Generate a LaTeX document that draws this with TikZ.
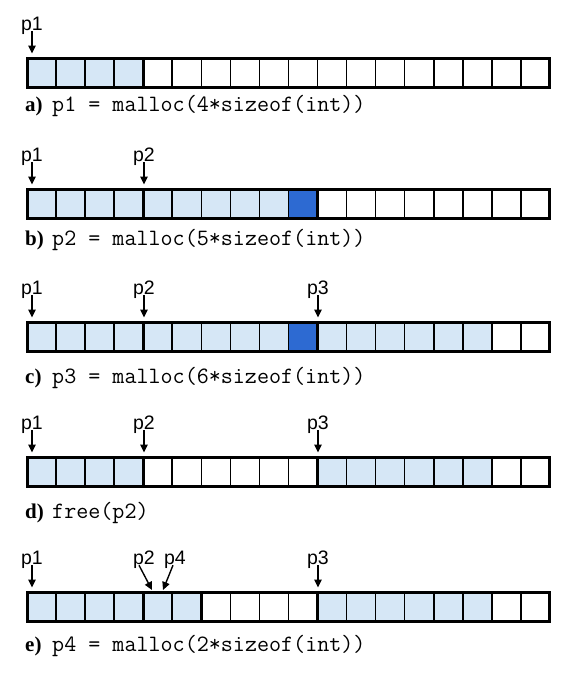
\documentclass[tikz,border=0pt]{standalone}
\usepackage{fontspec}
\setmainfont{Liberation Serif}
\newfontfamily\lblfont{Liberation Sans}
\usetikzlibrary{arrows.meta}
\definecolor{lb}{RGB}{214,231,246}
\definecolor{db}{RGB}{45,106,210}
\tikzset{
  cell/.style={draw=black, line width=1.6pt, minimum width=29.05pt, minimum height=29pt,
    inner sep=0pt, outer sep=0pt, anchor=north west},
  frame/.style={line width=3pt},
  sepline/.style={line width=3pt},
  ptrlabel/.style={font=\lblfont\fontsize{19.5}{19.5}\selectfont, inner sep=0pt, anchor=base},
  ptr/.style={-{Triangle[length=8pt,width=7.5pt]}, line width=1.4pt, shorten >=1.5pt},
  capt/.style={anchor=base west, inner sep=0pt},
}
\newcommand\memrow[3]{%
  \foreach \c [count=\i from 0] in {#3} {
    \node[cell, fill=\c] (#1\i) at ({27+29.05*\i}, #2) {};
  }
  \draw[frame] (#10.north west) rectangle (#117.south east);
}
\newcommand\capfont{\ttfamily\fontsize{23.4}{23.4}\selectfont}
\newcommand\tagfont{\bfseries\fontsize{21}{21}\selectfont}
\begin{document}
\begin{tikzpicture}[x=1pt, y=-1pt]
  \useasboundingbox (0,0) rectangle (580,675);

  % ---------- a ----------
  \memrow{a}{58}{lb,lb,lb,lb,white,white,white,white,white,white,white,white,white,white,white,white,white,white}
  \draw[sepline] (a4.north west) -- (a4.south west);
  \node[ptrlabel] (pa1) at (32,30) {p1};
  \draw[ptr] ([yshift=3pt]pa1.south) -- ([yshift=3pt]pa1.south |- a0.north);
  \node[capt] (capa) at (25,111) {\makebox[27pt][l]{\tagfont a)}\capfont p1 = malloc(4*sizeof(int))};

  % ---------- b ----------
  \memrow{b}{189}{lb,lb,lb,lb,lb,lb,lb,lb,lb,db,white,white,white,white,white,white,white,white}
  \draw[sepline] (b4.north west) -- (b4.south west);
  \draw[sepline] (b10.north west) -- (b10.south west);
  \node[ptrlabel] (pb1) at (32,161) {p1};
  \node[ptrlabel] (pb2) at (144,161) {p2};
  \draw[ptr] ([yshift=3pt]pb1.south) -- ([yshift=3pt]pb1.south |- b0.north);
  \draw[ptr] ([yshift=3pt]pb2.south) -- ([yshift=3pt]pb2.south |- b4.north);
  \node[capt] (capb) at (25,245) {\makebox[27pt][l]{\tagfont b)}\capfont p2 = malloc(5*sizeof(int))};

  % ---------- c ----------
  \memrow{c}{322}{lb,lb,lb,lb,lb,lb,lb,lb,lb,db,lb,lb,lb,lb,lb,lb,white,white}
  \draw[sepline] (c4.north west) -- (c4.south west);
  \draw[sepline] (c10.north west) -- (c10.south west);
  \node[ptrlabel] (pc1) at (32,294) {p1};
  \node[ptrlabel] (pc2) at (144,294) {p2};
  \node[ptrlabel] (pc3) at (318,294) {p3};
  \draw[ptr] ([yshift=3pt]pc1.south) -- ([yshift=3pt]pc1.south |- c0.north);
  \draw[ptr] ([yshift=3pt]pc2.south) -- ([yshift=3pt]pc2.south |- c4.north);
  \draw[ptr] ([yshift=3pt]pc3.south) -- ([yshift=3pt]pc3.south |- c10.north);
  \node[capt] (capc) at (25,383) {\makebox[27pt][l]{\tagfont c)}\capfont p3 = malloc(6*sizeof(int))};

  % ---------- d ----------
  \memrow{d}{457}{lb,lb,lb,lb,white,white,white,white,white,white,lb,lb,lb,lb,lb,lb,white,white}
  \draw[sepline] (d4.north west) -- (d4.south west);
  \draw[sepline] (d10.north west) -- (d10.south west);
  \node[ptrlabel] (pd1) at (32,429) {p1};
  \node[ptrlabel] (pd2) at (144,429) {p2};
  \node[ptrlabel] (pd3) at (318,429) {p3};
  \draw[ptr] ([yshift=3pt]pd1.south) -- ([yshift=3pt]pd1.south |- d0.north);
  \draw[ptr] ([yshift=3pt]pd2.south) -- ([yshift=3pt]pd2.south |- d4.north);
  \draw[ptr] ([yshift=3pt]pd3.south) -- ([yshift=3pt]pd3.south |- d10.north);
  \node[capt] (capd) at (25,518) {\makebox[27pt][l]{\tagfont d)}\capfont free(p2)};

  % ---------- e ----------
  \memrow{e}{592}{lb,lb,lb,lb,lb,lb,white,white,white,white,lb,lb,lb,lb,lb,lb,white,white}
  \draw[sepline] (e4.north west) -- (e4.south west);
  \draw[sepline] (e6.north west) -- (e6.south west);
  \draw[sepline] (e10.north west) -- (e10.south west);
  \node[ptrlabel] (pe1) at (32,564) {p1};
  \node[ptrlabel] (pe2) at (144,564) {p2};
  \node[ptrlabel] (pe4) at (175,564) {p4};
  \node[ptrlabel] (pe3) at (318,564) {p3};
  \coordinate (e2tip) at (152,590);
  \coordinate (e4tip) at (163,590);
  \draw[ptr] ([yshift=3pt]pe1.south) -- ([yshift=3pt]pe1.south |- e0.north);
  \draw[ptr, shorten >=0pt] ([xshift=-5pt,yshift=3pt]pe2.south) -- (e2tip);
  \draw[ptr, shorten >=0pt] ([xshift=-2pt,yshift=3pt]pe4.south) -- (e4tip);
  \draw[ptr] ([yshift=3pt]pe3.south) -- ([yshift=3pt]pe3.south |- e10.north);
  \node[capt] (cape) at (25,651) {\makebox[27pt][l]{\tagfont e)}\capfont p4 = malloc(2*sizeof(int))};
\end{tikzpicture}
\end{document}
